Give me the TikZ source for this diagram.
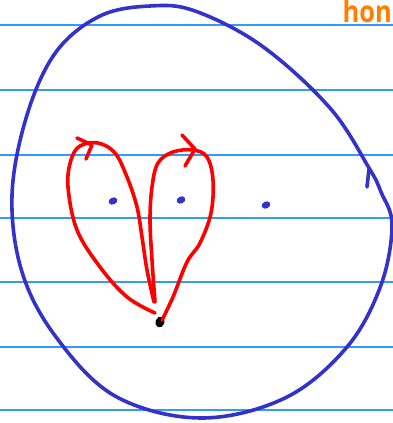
\documentclass[tikz,border=0pt]{standalone}
\usepackage{fontspec}
\setsansfont{Open Sans}
\usetikzlibrary{shapes.geometric}
\begin{document}
\begin{tikzpicture}[x=1pt,y=-1pt,
  rule/.style={draw={rgb,255:red,51;green,153;blue,255},line width=1.3pt},
  outline/.style={draw={rgb,255:red,51;green,51;blue,204},line width=3.6pt,line cap=round,line join=round},
  loopline/.style={draw=red,line width=3.6pt,line cap=round,line join=round},
  bluedot/.style={ellipse,fill={rgb,255:red,51;green,51;blue,204},minimum width=9pt,minimum height=7pt,inner sep=0pt,rotate=25},
  blackdot/.style={ellipse,fill=black,minimum width=9pt,minimum height=11pt,inner sep=0pt,rotate=-20}]
\useasboundingbox[fill=white] (0,0) rectangle (393,423);
% ruled lines
\foreach \yy in {25,90,155,218,282,347,410} \draw[rule] (0,\yy) -- (393,\yy);
% big outline
\draw[outline] plot[smooth cycle,tension=0.6] coordinates {(369,168) (330,108) (262,46) (195,11) (150,6) (100,16) (56,52) (27,115) (12,195) (22,272) (56,337) (115,396) (200,418) (285,398) (347,347) (381,285) (392,225) (381,192)};
\draw[outline] (369,169) -- (367,187);
% blue dots
\node[bluedot] (d1) at (113,201) {};
\node[bluedot] (d2) at (181,200) {};
\node[bluedot] (d3) at (266,205) {};
% black dot
\node[blackdot] (p) at (160,322) {};
% left loop
\draw[loopline] plot[smooth,tension=0.6] coordinates {(155,313) (127,297) (100,267) (77,230) (68,187) (71,160) (80,146) (98,143) (115,153) (127,177) (137,207) (142,237) (147,270) (154,302)};
\draw[loopline] (77,138) -- (92,145) -- (86,159);
% right loop
\draw[loopline] plot[smooth,tension=0.6] coordinates {(162,320) (173,297) (187,262) (200,243) (211,213) (213,180) (207,157) (193,150) (173,152) (158,163) (152,187) (150,220) (152,260) (155,302)};
\draw[loopline] (182,135) -- (195,149) -- (185,166);
% text
\node[text={rgb,255:red,255;green,128;blue,0},font=\sffamily\bfseries\fontsize{30}{30}\selectfont,anchor=base east,inner sep=0pt,xscale=0.85] (t) at (392,23) {hon};
\end{tikzpicture}
\end{document}
